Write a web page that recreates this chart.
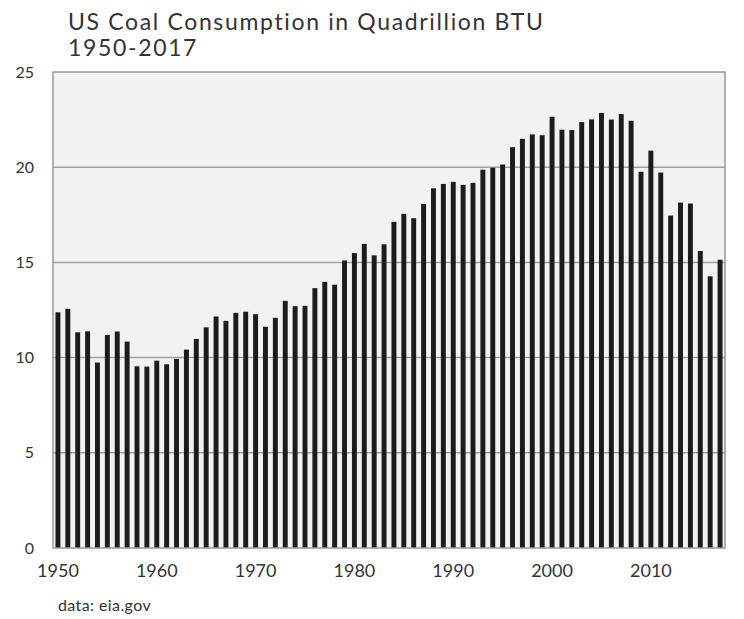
<!DOCTYPE html>
<html>
<head>
<meta charset="utf-8">
<script src="https://cdn.jsdelivr.net/npm/d3@7"></script>
<style>
  body { margin: 0; background: #fff; }
  text { font-family: Lato, "Open Sans", sans-serif; fill: #333; font-variant-ligatures: none; }
</style>
</head>
<body>
<div id="chart"></div>
<script>
const width = 744;
const height = 619;

const years = d3.range(1950, 2018);
const consumption = [
  12.38, 12.56, 11.33, 11.38, 9.74, 11.19, 11.37, 10.84, 9.54, 9.53,
  9.84, 9.65, 9.93, 10.42, 10.98, 11.59, 12.16, 11.93, 12.35, 12.41,
  12.28, 11.62, 12.09, 12.98, 12.7, 12.72, 13.65, 13.98, 13.83, 15.1,
  15.49, 15.97, 15.37, 15.95, 17.13, 17.55, 17.32, 18.07, 18.89, 19.12,
  19.23, 19.07, 19.18, 19.87, 19.97, 20.14, 21.05, 21.49, 21.72, 21.68,
  22.65, 21.97, 21.95, 22.37, 22.51, 22.85, 22.5, 22.79, 22.44, 19.76,
  20.87, 19.72, 17.46, 18.14, 18.09, 15.6, 14.27, 15.14
];
const yTicks = [0, 5, 10, 15, 20, 25];
const xTicks = [1950, 1960, 1970, 1980, 1990, 2000, 2010];

const margin = { top: 72, right: 19, bottom: 71, left: 53 };

const svg = d3
  .select("#chart")
  .append("svg")
  .attr("width", width)
  .attr("height", height);

const x = d3
  .scaleBand()
  .domain(years)
  .range([margin.left, width - margin.right])
  .paddingInner(0.5)
  .paddingOuter(0.25);

const y = d3
  .scaleLinear()
  .domain([0, 25])
  .range([height - margin.bottom, margin.top]);

// plot background
svg
  .append("rect")
  .attr("x", margin.left)
  .attr("y", margin.top)
  .attr("width", width - margin.left - margin.right)
  .attr("height", height - margin.top - margin.bottom)
  .attr("fill", "#f2f2f2");

// gridlines
svg
  .append("g")
  .selectAll("line")
  .data(yTicks.filter((d) => d > 0 && d < 25))
  .join("line")
  .attr("x1", margin.left)
  .attr("x2", width - margin.right)
  .attr("y1", (d) => y(d))
  .attr("y2", (d) => y(d))
  .attr("stroke", "#a0a0a0")
  .attr("stroke-width", 1.5);

// bars
svg
  .append("g")
  .selectAll("rect")
  .data(years)
  .join("rect")
  .attr("x", (d) => x(d))
  .attr("width", x.bandwidth())
  .attr("y", (d, i) => y(consumption[i]))
  .attr("height", (d, i) => y(0) - y(consumption[i]))
  .attr("fill", "#1c1c1c");

// frame
svg
  .append("rect")
  .attr("x", margin.left)
  .attr("y", margin.top)
  .attr("width", width - margin.left - margin.right)
  .attr("height", height - margin.top - margin.bottom)
  .attr("fill", "none")
  .attr("stroke", "#999")
  .attr("stroke-width", 1.5);

// y axis labels
const yAxis = d3
  .axisLeft(y)
  .tickValues(yTicks)
  .tickSize(0)
  .tickPadding(19);

svg
  .append("g")
  .attr("transform", `translate(${margin.left},0)`)
  .call(yAxis)
  .call((g) => g.select(".domain").remove())
  .call((g) =>
    g.selectAll("text").style("font-size", "16px").attr("fill", "#333")
  );

// x axis labels
const xAxis = d3
  .axisBottom(x)
  .tickValues(xTicks)
  .tickSize(0)
  .tickPadding(16);

svg
  .append("g")
  .attr("transform", `translate(0,${height - margin.bottom})`)
  .call(xAxis)
  .call((g) => g.select(".domain").remove())
  .call((g) =>
    g.selectAll("text").style("font-size", "18px").attr("fill", "#333")
  );

// title
const title = svg
  .append("text")
  .attr("x", 68)
  .attr("y", 30)
  .style("font-size", "23px")
  .style("letter-spacing", "1.65px");

title.append("tspan").attr("x", 68).text("US Coal Consumption in Quadrillion BTU");
title.append("tspan").attr("x", 68).attr("dy", 26).text("1950-2017");

// source
svg
  .append("text")
  .attr("x", 58)
  .attr("y", 611)
  .style("font-size", "16px")
  .style("letter-spacing", "0.4px")
  .text("data: eia.gov");
</script>
</body>
</html>
